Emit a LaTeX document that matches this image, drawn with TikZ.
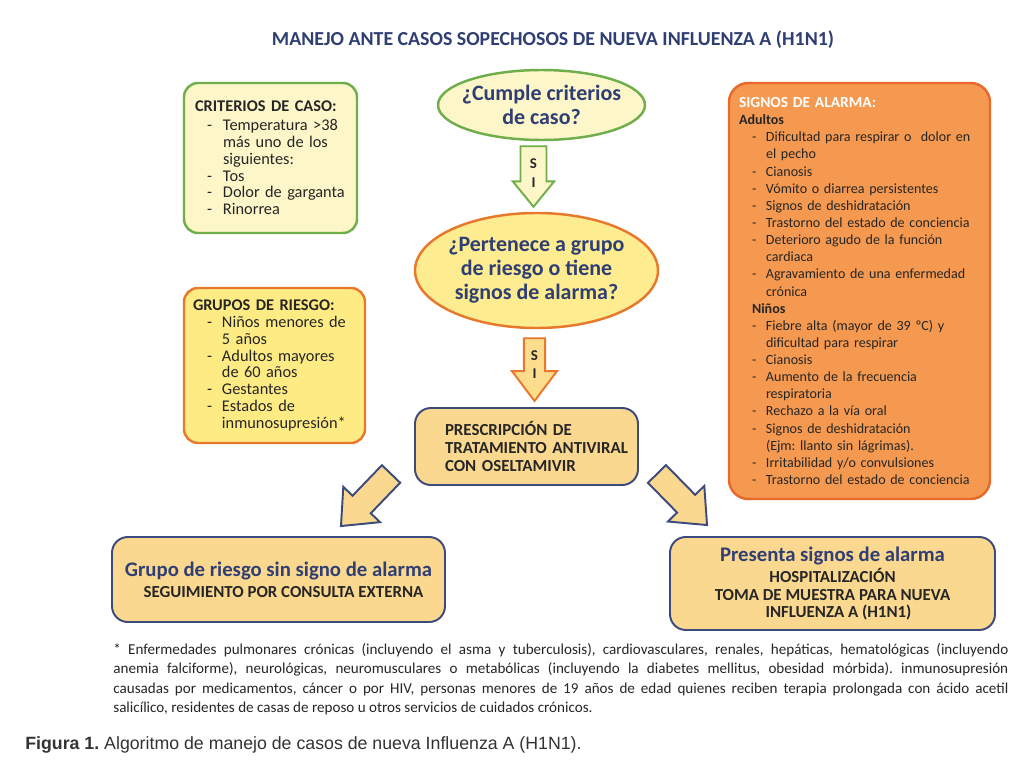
\documentclass[tikz,border=0pt]{standalone}
\usepackage{fontspec}
\setmainfont{Carlito}
\newfontfamily\capfont{Liberation Sans}
\usetikzlibrary{calc,shapes.geometric}

\newlength\px \setlength\px{0.02cm}
\newlength\dashpos \newlength\dashind
\hyphenpenalty=10000 \exhyphenpenalty=10000
\frenchspacing

\definecolor{titleblue}{HTML}{2F3E73}
\definecolor{textdark}{HTML}{262626}
\definecolor{greenline}{HTML}{6FAE4B}
\definecolor{creamfill}{HTML}{FDF6C9}
\definecolor{orangeline}{HTML}{E8782C}
\definecolor{yellowfill}{HTML}{FEEB84}
\definecolor{alarmfill}{HTML}{F4994F}
\definecolor{alarmline}{HTML}{E8692B}
\definecolor{peachfill}{HTML}{FBD88F}
\definecolor{navyline}{HTML}{3D4A7D}
\definecolor{captiongray}{HTML}{333333}

% dash list item with hanging indent
\newcommand\dashitem[1]{\par\noindent\hangindent=\dashind\hangafter=1%
  \makebox[\dashind][l]{\hspace*{\dashpos}-}#1\par}

% block arrow: style, start, tip, half shaft, half head, head length
\newcommand\fatarrow[6]{%
  \coordinate (fa-h) at ($(#3)!#6!(#2)$);
  \draw[#1] ($(#2)!#4!90:(#3)$) -- ($(fa-h)!#4!90:(#3)$) -- ($(fa-h)!#5!90:(#3)$)
    -- (#3) -- ($(fa-h)!#5!-90:(#3)$) -- ($(fa-h)!#4!-90:(#3)$)
    -- ($(#2)!#4!-90:(#3)$) -- cycle;}

\tikzset{
  listbox/.style={draw, rounded corners=8pt, line width=1.4pt, inner sep=0pt,
    align=left, text=textdark},
  question/.style={ellipse, draw, line width=1.4pt, inner sep=0pt},
  questiontext/.style={align=center, inner sep=0pt, text=titleblue,
    font=\fontsize{12.5pt}{13.6pt}\selectfont\bfseries},
  resultbox/.style={draw=navyline, fill=peachfill, rounded corners=9pt,
    line width=1.1pt, inner sep=0pt, align=center, text=textdark},
  silabel/.style={text=textdark, font=\fontsize{8.5pt}{9pt}\selectfont\bfseries,
    inner sep=0pt},
}

\begin{document}
\begin{tikzpicture}[x=1\px, y=-1\px]
\useasboundingbox[fill=white] (0,0) rectangle (1029,774);

% Title
\node[text=titleblue, font=\fontsize{11.3pt}{13pt}\selectfont\bfseries] (title) at (553,40)
  {MANEJO ANTE CASOS SOPECHOSOS DE NUEVA INFLUENZA A (H1N1)};

% Questions
\node[question, draw=greenline, fill=creamfill, minimum width=207\px, minimum height=70\px]
  (q1) at (541.5,105) {};
\node[questiontext] (q1t) at (q1) {¿Cumple criterios\\de caso?};
\node[question, draw=orangeline, fill=yellowfill!90!white, minimum width=243\px, minimum height=115\px]
  (q2) at (536.5,270.5) {};
\node[questiontext] (q2t) at (q2) {¿Pertenece a grupo\\de riesgo o tiene\\signos de alarma?};

% Treatment
\node[resultbox, minimum width=223\px, minimum height=77\px, text width=203\px,
  font=\fontsize{9.6pt}{10.2pt}\selectfont\bfseries] (rx) at (526.5,446.5)
  {\raggedright\leftskip=20\px PRESCRIPCIÓN DE\\TRATAMIENTO ANTIVIRAL\\CON OSELTAMIVIR\par};

% Outcomes
\node[resultbox, minimum width=333\px, minimum height=85\px] (out1) at (278.5,579.5)
  {{\fontsize{11.8pt}{13pt}\selectfont\bfseries\color{titleblue}Grupo de riesgo sin signo de alarma}\\
   {\fontsize{9.6pt}{10pt}\selectfont\bfseries\hspace*{10\px}SEGUIMIENTO POR CONSULTA EXTERNA}};
\node[resultbox, minimum width=325\px, minimum height=93\px,
  font=\fontsize{9.6pt}{9.9pt}\selectfont\bfseries] (out2) at (832.5,583.5)
  {{\fontsize{11.8pt}{12pt}\selectfont\color{titleblue}Presenta signos de alarma}\\[1pt]
   HOSPITALIZACIÓN\\TOMA DE MUESTRA PARA NUEVA\\\hspace*{12\px}INFLUENZA A (H1N1)};

% Side lists
\node[listbox, draw=greenline, fill=creamfill, minimum width=173\px, minimum height=150\px,
  text width=151\px, font=\fontsize{9.3pt}{9.6pt}\selectfont] (crit) at (270.5,158)
  {\raggedright\setlength\dashpos{12\px}\setlength\dashind{28\px}%
   {\bfseries CRITERIOS DE CASO:}\par\vspace{1pt}
   \dashitem{Temperatura >38 más uno de los siguientes:}
   \dashitem{Tos}
   \dashitem{Dolor de garganta}
   \dashitem{Rinorrea}};
\node[listbox, draw=orangeline, fill=yellowfill, minimum width=181\px, minimum height=155\px,
  text width=163\px, font=\fontsize{9.3pt}{9.6pt}\selectfont] (risk) at (274.5,365.5)
  {\raggedright\setlength\dashpos{14\px}\setlength\dashind{29\px}%
   {\bfseries GRUPOS DE RIESGO:}\par
   \dashitem{Niños menores de\newline 5 años}
   \dashitem{Adultos mayores\newline de 60 años}
   \dashitem{Gestantes}
   \dashitem{Estados de\newline inmunosupresión*}};
\node[listbox, draw=alarmline, fill=alarmfill, rounded corners=11pt, minimum width=261\px,
  minimum height=416\px, text width=241\px, font=\fontsize{8pt}{9.75pt}\selectfont] (alarm) at (859.5,291)
  {\raggedright\setlength\dashpos{13\px}\setlength\dashind{27\px}%
   {\fontsize{8.8pt}{11pt}\selectfont\bfseries\color{white}SIGNOS DE ALARMA:}\par
   {\bfseries Adultos}\par
   \dashitem{Dificultad para respirar o~ dolor en\newline el pecho}
   \dashitem{Cianosis}
   \dashitem{Vómito o diarrea persistentes}
   \dashitem{Signos de deshidratación}
   \dashitem{Trastorno del estado de conciencia}
   \dashitem{Deterioro agudo de la función\newline cardiaca}
   \dashitem{Agravamiento de una enfermedad\newline crónica}
   \noindent\hspace*{13\px}{\bfseries Niños}\par
   \dashitem{Fiebre alta (mayor de 39 ºC) y\newline dificultad para respirar}
   \dashitem{Cianosis}
   \dashitem{Aumento de la frecuencia\newline respiratoria}
   \dashitem{Rechazo a la vía oral}
   \dashitem{Signos de deshidratación\newline (Ejm: llanto sin lágrimas).}
   \dashitem{Irritabilidad y/o convulsiones}
   \dashitem{Trastorno del estado de conciencia}};

% SI arrows
\coordinate (a1s) at ($(q1.south)+(-8,5)$);
\coordinate (a1e) at ($(a1s |- q2.north)+(0,-5)$);
\fatarrow{draw=greenline, fill=creamfill, line width=1.1pt}{a1s}{a1e}{7.4pt}{11.8pt}{14.5pt}
\node[silabel] (s1) at ($(a1s)!0.29!(a1e)$) {S};
\node[silabel] (i1) at ($(a1s)!0.60!(a1e)$) {I};
\coordinate (a2s) at ($(q2.south)+(-2,9)$);
\coordinate (a2e) at ($(a2s |- rx.north)+(0,-6)$);
\fatarrow{draw=orangeline, fill=peachfill!80!yellowfill, line width=1.1pt}{a2s}{a2e}{6pt}{12.8pt}{17pt}
\node[silabel] (s2) at ($(a2s)!0.28!(a2e)$) {S};
\node[silabel] (i2) at ($(a2s)!0.57!(a2e)$) {I};

% Diagonal arrows
\coordinate (a3s) at ($(rx.south west)+(-23,-12)$);
\coordinate (a3e) at ($(out1.north east)+(-105,-10)$);
\fatarrow{draw=navyline, fill=peachfill, line width=1.1pt}{a3s}{a3e}{7.2pt}{14.5pt}{17pt}
\coordinate (a4s) at ($(rx.south east)+(18,-12)$);
\coordinate (a4e) at ($(out2.north west)+(38,-11)$);
\fatarrow{draw=navyline, fill=peachfill, line width=1.1pt}{a4s}{a4e}{7.2pt}{14.5pt}{17pt}

% Footnote
\node[anchor=north west, inner sep=0pt, text width=895\px, align=justify, text=textdark,
  font=\fontsize{8.6pt}{11pt}\selectfont] (note) at (113,643)
  {* Enfermedades pulmonares crónicas (incluyendo el asma y tuberculosis), cardiovasculares, renales, hepáticas, hematológicas (incluyendo\linebreak
   anemia falciforme), neurológicas, neuromusculares o metabólicas (incluyendo la diabetes mellitus, obesidad mórbida). inmunosupresión\linebreak
   causadas por medicamentos, cáncer o por HIV, personas menores de 19 años de edad quienes reciben terapia prolongada con ácido acetil\linebreak
   salicílico, residentes de casas de reposo u otros servicios de cuidados crónicos.};

% Caption
\node[anchor=west, inner sep=0pt, text=captiongray, font=\capfont\fontsize{10.1pt}{12pt}\selectfont]
  (caption) at (25,745) {\textbf{Figura 1.} Algoritmo de manejo de casos de nueva Influenza A (H1N1).};

\end{tikzpicture}
\end{document}
